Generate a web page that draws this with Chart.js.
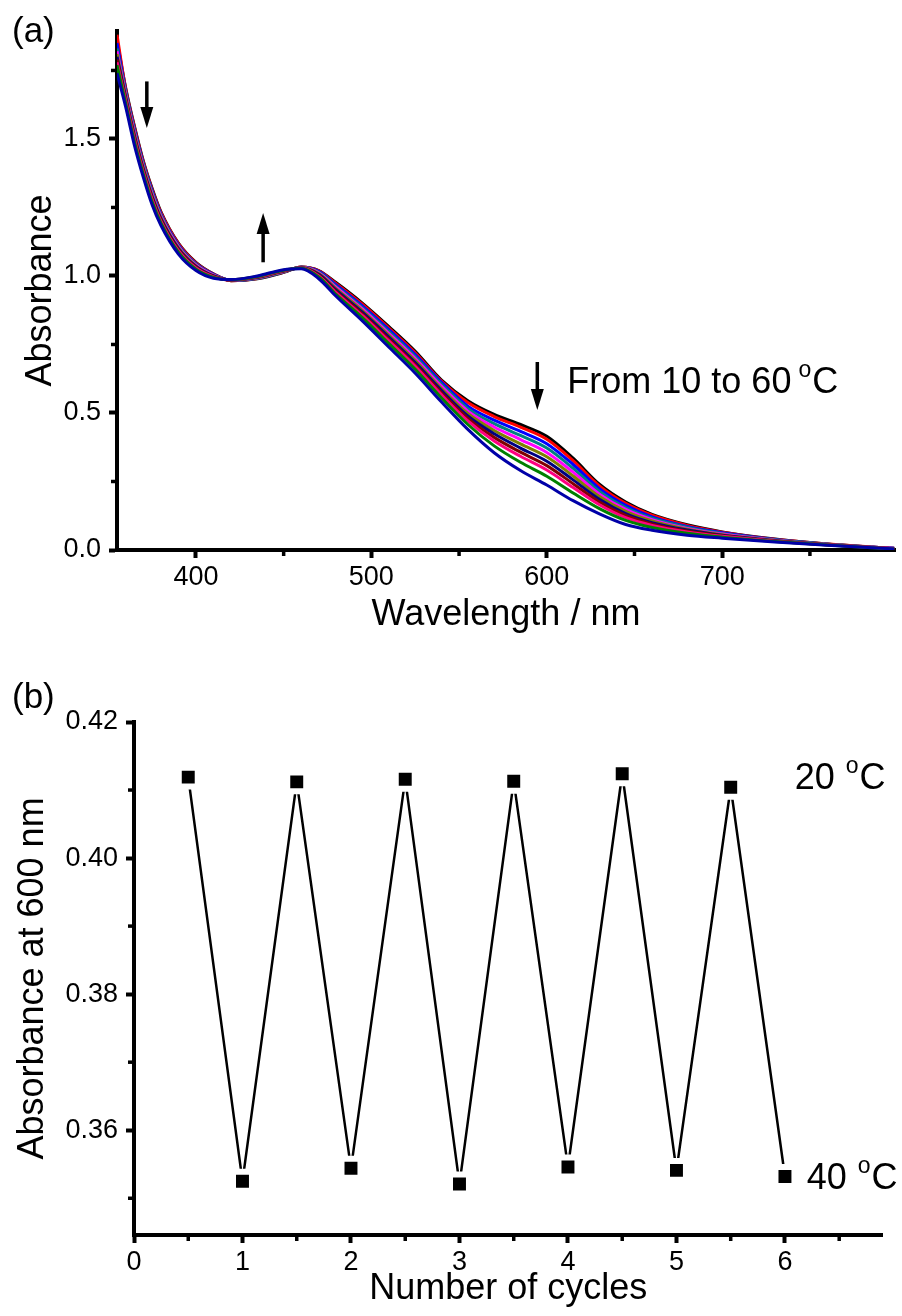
<!DOCTYPE html>
<html>
<head>
<meta charset="utf-8">
<script src="https://cdn.jsdelivr.net/npm/chart.js@4.4.1/dist/chart.umd.min.js"></script>
<style>
  html, body { margin: 0; padding: 0; background: #fff; }
  #wrap { position: relative; width: 902px; height: 1316px; }
  .pane { position: absolute; left: 0; width: 902px; }
  #paneA { top: 0; height: 660px; }
  #paneB { top: 660px; height: 656px; }
</style>
</head>
<body>
<div id="wrap">
  <div class="pane" id="paneA"><canvas id="chartA"></canvas></div>
  <div class="pane" id="paneB"><canvas id="chartB"></canvas></div>
</div>
<script>
// ---- panel (a): spectra from 10 to 60 C ----
const wavelengths = [355, 360, 365, 370, 375, 380, 390, 400, 410, 420, 435, 450, 460, 470, 480, 495,
                     510, 525, 540, 555, 570, 585, 600, 615, 630, 645, 660, 680, 700, 730, 760, 798];
const temps = [10, 15, 20, 25, 30, 35, 40, 45, 50, 55, 60];

const abs10 = [1.86, 1.685, 1.545, 1.42, 1.32, 1.235, 1.12, 1.05, 1.008, 0.983, 0.99, 1.013, 1.033, 1.02, 0.975, 0.90,
               0.815, 0.725, 0.62, 0.545, 0.495, 0.458, 0.415, 0.335, 0.24, 0.175, 0.13, 0.092, 0.066, 0.04, 0.022, 0.006];
const abs15 = [1.88, 1.681, 1.541, 1.416, 1.316, 1.232, 1.118, 1.048, 1.007, 0.983, 0.991, 1.014, 1.033, 1.019, 0.972, 0.896,
               0.81, 0.72, 0.616, 0.538, 0.487, 0.448, 0.404, 0.326, 0.234, 0.17, 0.127, 0.09, 0.065, 0.039, 0.022, 0.006];
const abs20 = [1.85, 1.674, 1.534, 1.411, 1.311, 1.227, 1.114, 1.045, 1.006, 0.984, 0.992, 1.015, 1.032, 1.017, 0.967, 0.89,
               0.804, 0.713, 0.612, 0.525, 0.474, 0.433, 0.388, 0.312, 0.224, 0.163, 0.121, 0.086, 0.063, 0.038, 0.021, 0.006];
const abs25 = [1.83, 1.668, 1.528, 1.406, 1.306, 1.223, 1.11, 1.043, 1.004, 0.984, 0.992, 1.015, 1.032, 1.014, 0.962, 0.884,
               0.797, 0.706, 0.605, 0.516, 0.461, 0.418, 0.372, 0.298, 0.214, 0.155, 0.116, 0.083, 0.06, 0.037, 0.021, 0.005];
const abs30 = [1.82, 1.662, 1.522, 1.40, 1.30, 1.218, 1.107, 1.04, 1.003, 0.984, 0.993, 1.016, 1.031, 1.012, 0.958, 0.879,
               0.79, 0.699, 0.597, 0.507, 0.449, 0.403, 0.356, 0.284, 0.204, 0.148, 0.111, 0.079, 0.058, 0.036, 0.020, 0.005];
const abs35 = [1.81, 1.656, 1.516, 1.395, 1.295, 1.214, 1.103, 1.037, 1.001, 0.985, 0.994, 1.017, 1.031, 1.009, 0.953, 0.873,
               0.783, 0.691, 0.589, 0.498, 0.436, 0.387, 0.34, 0.27, 0.195, 0.141, 0.106, 0.076, 0.056, 0.035, 0.020, 0.005];
const abs40 = [1.80, 1.649, 1.509, 1.389, 1.289, 1.209, 1.10, 1.035, 1.0, 0.985, 0.995, 1.018, 1.03, 1.006, 0.948, 0.867,
               0.777, 0.684, 0.582, 0.489, 0.424, 0.372, 0.324, 0.256, 0.185, 0.133, 0.10, 0.073, 0.054, 0.034, 0.019, 0.005];
const abs45 = [1.79, 1.643, 1.503, 1.384, 1.284, 1.205, 1.096, 1.032, 0.998, 0.985, 0.996, 1.019, 1.029, 1.003, 0.943, 0.861,
               0.77, 0.677, 0.574, 0.48, 0.411, 0.357, 0.308, 0.242, 0.175, 0.126, 0.095, 0.069, 0.052, 0.033, 0.019, 0.005];
const abs50 = [1.78, 1.637, 1.497, 1.379, 1.279, 1.20, 1.092, 1.029, 0.997, 0.986, 0.997, 1.02, 1.029, 1.0, 0.938, 0.855,
               0.763, 0.67, 0.566, 0.471, 0.398, 0.342, 0.292, 0.228, 0.165, 0.118, 0.09, 0.066, 0.05, 0.032, 0.019, 0.005];
const abs55 = [1.77, 1.628, 1.488, 1.371, 1.271, 1.194, 1.087, 1.025, 0.995, 0.986, 0.998, 1.021, 1.028, 0.996, 0.932, 0.847,
               0.753, 0.659, 0.555, 0.458, 0.38, 0.32, 0.269, 0.208, 0.151, 0.108, 0.082, 0.061, 0.047, 0.031, 0.018, 0.004];
const abs60 = [1.74, 1.615, 1.475, 1.36, 1.26, 1.185, 1.08, 1.02, 0.992, 0.987, 1.0, 1.023, 1.026, 0.99, 0.925, 0.835,
               0.74, 0.645, 0.54, 0.44, 0.355, 0.29, 0.237, 0.18, 0.132, 0.093, 0.072, 0.054, 0.043, 0.029, 0.017, 0.004];

const wlTicks = [400, 500, 600, 700];
const wlMinor = [450, 550, 650, 750];
const absTicks = [0, 0.5, 1.0, 1.5];
const absMinor = [0.25, 0.75, 1.25, 1.75];

// ---- panel (b): absorbance at 600 nm over heating/cooling cycles ----
const cycles = [0.5, 1, 1.5, 2, 2.5, 3, 3.5, 4, 4.5, 5, 5.5, 6];
const abs600 = [0.4119, 0.3525, 0.4112, 0.3544, 0.4116, 0.3521, 0.4113, 0.3546, 0.4124, 0.3541, 0.4104, 0.3532];
const cycleTicks = [0, 1, 2, 3, 4, 5, 6];
const cycleMinor = [0.5, 1.5, 2.5, 3.5, 4.5, 5.5, 6.5];
const abs600Ticks = [0.36, 0.38, 0.40, 0.42];
const abs600Minor = [0.35, 0.37, 0.39, 0.41];

const spectra = [abs10, abs15, abs20, abs25, abs30, abs35, abs40, abs45, abs50, abs55, abs60];
const colors = ['#000000', '#FF0000', '#0000FF', '#008080', '#FF00FF', '#808000',
                '#000080', '#800000', '#FF0080', '#008000', '#0000A8'];

const FONT = '"Liberation Sans", Arial, sans-serif';
Chart.defaults.font.family = FONT;
Chart.defaults.color = '#000';

// short minor ticks, Chart.js has none of its own
const minorTicks = {
    id: 'minorTicks',
    afterDraw(chart, args, opts) {
        const {ctx, scales: {x, y}} = chart;
        ctx.save();
        ctx.strokeStyle = '#000';
        ctx.lineWidth = 3.5;
        opts.x.forEach(v => {
            const px = x.getPixelForValue(v);
            ctx.beginPath(); ctx.moveTo(px, x.top); ctx.lineTo(px, x.top + 6); ctx.stroke();
        });
        opts.y.forEach(v => {
            const py = y.getPixelForValue(v);
            ctx.beginPath(); ctx.moveTo(y.right, py); ctx.lineTo(y.right - 6, py); ctx.stroke();
        });
        ctx.restore();
    }
};

function drawArrow(ctx, px, yFrom, yTo) {
    const dir = yTo > yFrom ? 1 : -1;
    const head = 21;
    ctx.beginPath();
    ctx.moveTo(px, yFrom);
    ctx.lineTo(px, yTo - dir * head + dir * 2);
    ctx.stroke();
    ctx.beginPath();
    ctx.moveTo(px, yTo);
    ctx.lineTo(px - 6.5, yTo - dir * head);
    ctx.lineTo(px + 6.5, yTo - dir * head);
    ctx.closePath();
    ctx.fill();
}

function drawDegLabel(ctx, text, x, y, size, gap) {
    ctx.font = size + 'px ' + FONT;
    ctx.fillText(text, x, y);
    let cx = x + ctx.measureText(text).width + gap;
    ctx.font = '23px ' + FONT;
    ctx.fillText('o', cx, y - 16);
    cx += ctx.measureText('o').width + 1;
    ctx.font = size + 'px ' + FONT;
    ctx.fillText('C', cx, y);
}

const annotA = {
    id: 'annotA',
    afterDraw(chart) {
        const {ctx, scales: {x, y}} = chart;
        ctx.save();
        ctx.fillStyle = '#000';
        ctx.strokeStyle = '#000';
        ctx.lineWidth = 3.5;
        drawArrow(ctx, x.getPixelForValue(372), y.getPixelForValue(1.71), y.getPixelForValue(1.54));
        drawArrow(ctx, x.getPixelForValue(438.3), y.getPixelForValue(1.05), y.getPixelForValue(1.23));
        drawArrow(ctx, x.getPixelForValue(594.6), y.getPixelForValue(0.686), y.getPixelForValue(0.511));
        ctx.textBaseline = 'alphabetic';
        ctx.textAlign = 'left';
        drawDegLabel(ctx, 'From 10 to 60', x.getPixelForValue(611.7), y.getPixelForValue(0.573), 36, 7);
        ctx.font = '35px ' + FONT;
        ctx.fillText('(a)', 12, 42);
        ctx.restore();
    }
};

const annotB = {
    id: 'annotB',
    afterDraw(chart) {
        const {ctx, scales: {x, y}} = chart;
        ctx.save();
        ctx.fillStyle = '#000';
        ctx.textBaseline = 'alphabetic';
        ctx.textAlign = 'left';
        drawDegLabel(ctx, '20 ', x.getPixelForValue(6.09), y.getPixelForValue(0.4101), 36, 1);
        drawDegLabel(ctx, '40 ', x.getPixelForValue(6.2), y.getPixelForValue(0.3513), 36, 1);
        ctx.font = '35px ' + FONT;
        ctx.fillText('(b)', 12, 48);
        ctx.restore();
    }
};

function axisStyle(ticks, fmt, fixSize) {
    return {
        border: {display: true, color: '#000', width: 4},
        grid: {display: true, drawOnChartArea: false, drawTicks: true, tickLength: 8, tickWidth: 4, tickColor: '#000'},
        ticks: {font: {size: 27}, color: '#000', padding: 3, callback: fmt, autoSkip: false, maxRotation: 0},
        afterBuildTicks: scale => { scale.ticks = ticks.map(v => ({value: v})); },
        afterFit: fixSize
    };
}

// panel (a)
const xA = axisStyle(wlTicks, v => v, s => { s.height = 110; });
xA.type = 'linear'; xA.min = 355; xA.max = 798.5;
xA.title = {display: true, text: 'Wavelength / nm', font: {size: 36}, padding: {top: 0, bottom: 23}};
const yA = axisStyle(absTicks, v => v.toFixed(1), s => { s.width = 117; });
yA.min = 0; yA.max = 1.894;
yA.ticks.padding = 8;
yA.title = {display: true, text: 'Absorbance', font: {size: 36}, padding: {top: 19, bottom: 0}};

new Chart(document.getElementById('chartA'), {
    type: 'line',
    data: {
        labels: wavelengths,
        datasets: spectra.map((vals, i) => ({
            label: temps[i] + ' °C',
            data: wavelengths.map((w, k) => ({x: w, y: vals[k]})),
            borderColor: colors[i],
            borderWidth: 3,
            pointRadius: 0,
            cubicInterpolationMode: 'monotone',
            order: spectra.length - i
        }))
    },
    options: {
        responsive: true,
        maintainAspectRatio: false,
        animation: false,
        devicePixelRatio: 1,
        layout: {padding: {top: 31, right: 7, left: 0, bottom: 0}},
        plugins: {
            legend: {display: false},
            tooltip: {enabled: false},
            minorTicks: {x: wlMinor, y: absMinor}
        },
        scales: {x: xA, y: yA}
    },
    plugins: [minorTicks, annotA]
});

// panel (b)
const xB = axisStyle(cycleTicks, v => v, s => { s.height = 81; });
xB.type = 'linear'; xB.min = 0; xB.max = 6.9;
xB.title = {display: true, text: 'Number of cycles', font: {size: 36}, padding: {top: 0, bottom: 5}};
const yB = axisStyle(abs600Ticks, v => v.toFixed(2), s => { s.width = 134; });
yB.min = 0.3446; yB.max = 0.42;
yB.ticks.padding = 8;
yB.title = {display: true, text: 'Absorbance at 600 nm', font: {size: 36}, padding: {top: 11, bottom: 0}};

new Chart(document.getElementById('chartB'), {
    type: 'line',
    data: {
        datasets: [{
            label: 'A600',
            data: cycles.map((c, k) => ({x: c, y: abs600[k]})),
            borderColor: '#000',
            borderWidth: 2.5,
            tension: 0,
            pointStyle: 'rect',
            pointRadius: 13.4,
            pointBackgroundColor: '#000',
            pointBorderColor: '#fff',
            pointBorderWidth: 6
        }]
    },
    options: {
        responsive: true,
        maintainAspectRatio: false,
        animation: false,
        devicePixelRatio: 1,
        layout: {padding: {top: 62, right: 15, left: 0, bottom: 0}},
        plugins: {
            legend: {display: false},
            tooltip: {enabled: false},
            minorTicks: {x: cycleMinor, y: abs600Minor}
        },
        scales: {x: xB, y: yB}
    },
    plugins: [minorTicks, annotB]
});
</script>
</body>
</html>
